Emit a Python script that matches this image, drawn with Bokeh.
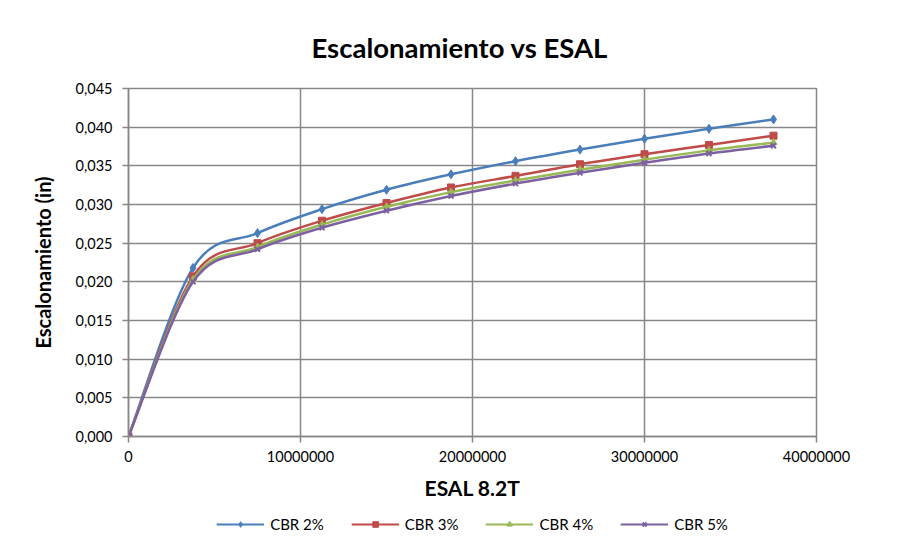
from bokeh.plotting import figure
from bokeh.layouts import column
from bokeh.models import (Legend, LegendItem, CustomJSTickFormatter, SingleIntervalTicker,
                          Range1d, ColumnDataSource)
from bokeh.embed import file_html
from bokeh.resources import INLINE

# ---------------- data ----------------
esal = [0, 3750000, 7500000, 11250000, 15000000, 18750000, 22500000,
        26250000, 30000000, 33750000, 37500000]
cbr2 = [0.0, 0.0218, 0.0263, 0.0294, 0.0319, 0.0339, 0.0356, 0.0371, 0.0385, 0.0398, 0.0410]
cbr3 = [0.0, 0.0207, 0.0250, 0.0279, 0.0302, 0.0322, 0.0337, 0.0352, 0.0365, 0.0377, 0.0389]
cbr4 = [0.0, 0.0203, 0.0245, 0.0274, 0.0297, 0.0316, 0.0331, 0.0345, 0.0358, 0.0370, 0.0380]
cbr5 = [0.0, 0.0200, 0.0242, 0.0270, 0.0292, 0.0311, 0.0327, 0.0341, 0.0354, 0.0366, 0.0376]
series_labels = ["CBR 2%", "CBR 3%", "CBR 4%", "CBR 5%"]
colors = ["#4A7EBB", "#BE4B48", "#98B954", "#7D60A0"]
markers = ["diamond", "square", "triangle", "x"]
marker_sizes = [9, 7, 7, 7]

FONT = "Lato"
GRAY = "#878787"

p = figure(width=892, height=505, output_backend="svg", toolbar_location=None,
           x_range=Range1d(0, 40000000), y_range=Range1d(0, 0.045),
           min_border_left=128, min_border_right=76, min_border_top=88,
           min_border_bottom=69, background_fill_color="white",
           border_fill_color="white")

p.title.text = "Escalonamiento vs ESAL"
p.title.text_font = FONT
p.title.text_font_size = "27.5px"
p.title.text_font_style = "bold"
p.title.text_color = "black"
p.title.align = "left"
p.title.offset = 183
p.title.standoff = 49

p.outline_line_color = GRAY
p.outline_line_width = 1.5

for ax in (p.xaxis[0], p.yaxis[0]):
    ax.axis_line_color = GRAY
    ax.axis_line_width = 1.5
    ax.major_tick_line_color = GRAY
    ax.major_tick_line_width = 1.5
    ax.major_tick_in = 0
    ax.major_tick_out = 6
    ax.minor_tick_line_color = None
    ax.major_label_text_font = FONT
    ax.major_label_text_font_size = "14.5px"
    ax.major_label_text_color = "black"
    ax.axis_label_text_font = FONT
    ax.axis_label_text_font_style = "bold"
    ax.axis_label_text_color = "black"

p.xaxis.axis_label_text_font_size = "21px"
p.yaxis.axis_label_text_font_size = "20px"
p.xaxis.ticker = SingleIntervalTicker(interval=10000000)
p.yaxis.ticker = SingleIntervalTicker(interval=0.005)
p.xaxis.formatter = CustomJSTickFormatter(code="return tick.toFixed(0);")
p.yaxis.formatter = CustomJSTickFormatter(code="return tick.toFixed(3).replace('.', ',');")
p.xaxis.axis_label = "ESAL 8.2T"
p.yaxis.axis_label = "Escalonamiento (in)"
p.xaxis.major_label_standoff = 8
p.yaxis.major_label_standoff = 10
p.xaxis.axis_label_standoff = 10
p.yaxis.axis_label_standoff = 18

p.xgrid.grid_line_color = GRAY
p.ygrid.grid_line_color = GRAY
p.xgrid.grid_line_width = 1.5
p.ygrid.grid_line_width = 1.5


def catmull_bezier(xs, ys):
    n = len(xs)
    x0, y0, x1, y1, cx0, cy0, cx1, cy1 = [], [], [], [], [], [], [], []
    for i in range(n - 1):
        im1 = max(i - 1, 0)
        ip2 = min(i + 2, n - 1)
        x0.append(xs[i]); y0.append(ys[i])
        x1.append(xs[i + 1]); y1.append(ys[i + 1])
        cx0.append(xs[i] + (xs[i + 1] - xs[im1]) / 6.0)
        cy0.append(ys[i] + (ys[i + 1] - ys[im1]) / 6.0)
        cx1.append(xs[i + 1] - (xs[ip2] - xs[i]) / 6.0)
        cy1.append(ys[i + 1] - (ys[ip2] - ys[i]) / 6.0)
    return dict(x0=x0, y0=y0, x1=x1, y1=y1, cx0=cx0, cy0=cy0, cx1=cx1, cy1=cy1)


# legend-only strip below the chart (its ranges keep the series out of view)
pl = figure(width=892, height=37, output_backend="svg", toolbar_location=None,
            x_range=Range1d(-2, -1), y_range=Range1d(-2, -1),
            min_border=0, border_fill_color="white", background_fill_color="white")
pl.axis.visible = False
pl.grid.visible = False
pl.outline_line_color = None

items = []
for ys, lab, col, mk, ms in zip([cbr2, cbr3, cbr4, cbr5], series_labels, colors,
                                markers, marker_sizes):
    src = ColumnDataSource(catmull_bezier(esal, ys))
    p.bezier(x0="x0", y0="y0", x1="x1", y1="y1", cx0="cx0", cy0="cy0",
             cx1="cx1", cy1="cy1", source=src, line_color=col, line_width=2.5)
    lw = 2 if mk == "x" else 1
    p.scatter(esal, ys, marker=mk, size=ms, fill_color=col, line_color=col,
              line_width=lw)
    rl = pl.line(esal, ys, line_color=col, line_width=2)
    rs = pl.scatter(esal, ys, marker=mk, size=ms - 2, fill_color=col, line_color=col,
                    line_width=lw)
    items.append(LegendItem(label=lab, renderers=[rl, rs]))

legend = Legend(items=items, orientation="horizontal", location="center",
                glyph_width=48, glyph_height=14, label_standoff=6, spacing=27,
                label_text_font=FONT, label_text_font_size="15px",
                label_text_color="black",
                border_line_color=None, background_fill_alpha=0, padding=4,
                margin=0)
pl.add_layout(legend)

layout = column(p, pl, spacing=0)
open("out.html", "w").write(file_html(layout, INLINE))
